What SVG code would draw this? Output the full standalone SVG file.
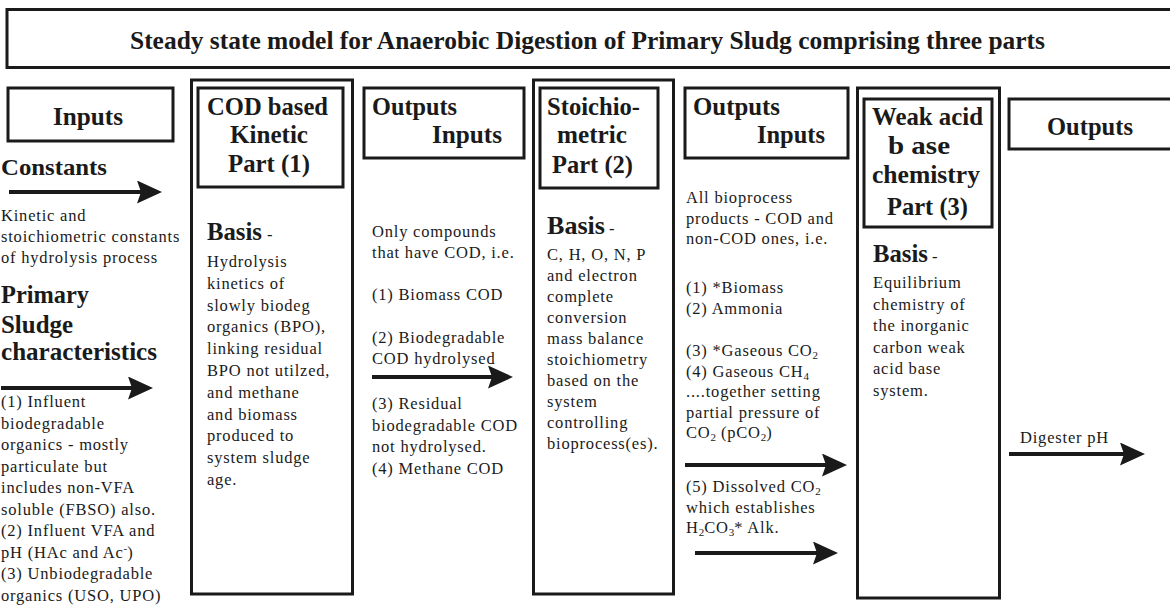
<svg xmlns="http://www.w3.org/2000/svg" width="1170" height="608" viewBox="0 0 1170 608">
  <style>
    .box { fill: none; stroke: #1a1a1a; stroke-width: 3; }
    .h { font-family: "Liberation Serif", "Times New Roman", serif; font-weight: bold; font-size: 26px; fill: #1a1a1a; }
    .t { font-family: "Liberation Serif", "Times New Roman", serif; font-size: 16.5px; letter-spacing: 0.8px; fill: #1a1a1a; }
    .sub { font-size: 11px; letter-spacing: 0; }
    .arrow { stroke: #1a1a1a; stroke-width: 4; fill: none; marker-end: url(#ah); }
  </style>
  <defs>
    <marker id="ah" markerUnits="userSpaceOnUse" markerWidth="26" markerHeight="24" refX="8" refY="11.5" orient="auto">
      <path d="M0,0 L25,11.5 L0,23 L4,11.5 Z" fill="#1a1a1a"/>
    </marker>
  </defs>
  <rect width="1170" height="608" fill="#ffffff"/>

  <!-- Title banner -->
  <g id="title">
    <rect class="box" x="7" y="9.5" width="1170" height="58"/>
    <text class="h" x="130" y="49" style="font-size:25px" textLength="915" lengthAdjust="spacingAndGlyphs">Steady state model for Anaerobic Digestion of Primary Sludg comprising three parts</text>
  </g>

  <!-- Column: model inputs -->
  <g id="inputs">
    <rect class="box" x="8" y="88" width="165" height="53"/>
    <text class="h" x="53" y="125" textLength="70" lengthAdjust="spacingAndGlyphs">Inputs</text>
    <text class="h" x="1" y="175" style="font-size:24px" textLength="106" lengthAdjust="spacingAndGlyphs">Constants</text>
    <text class="t" x="1" y="221">Kinetic and</text>
    <text class="t" x="1" y="242">stoichiometric constants</text>
    <text class="t" x="1" y="263">of hydrolysis process</text>
    <text class="h" x="1" y="303" textLength="88" lengthAdjust="spacingAndGlyphs">Primary</text>
    <text class="h" x="1" y="333" textLength="72" lengthAdjust="spacingAndGlyphs">Sludge</text>
    <text class="h" x="1" y="360" textLength="156" lengthAdjust="spacingAndGlyphs">characteristics</text>
    <text class="t" x="1" y="407">(1) Influent</text>
    <text class="t" x="1" y="428.5">biodegradable</text>
    <text class="t" x="1" y="450">organics - mostly</text>
    <text class="t" x="1" y="471.5">particulate but</text>
    <text class="t" x="1" y="493">includes non-VFA</text>
    <text class="t" x="1" y="514.5">soluble (FBSO) also.</text>
    <text class="t" x="1" y="536">(2) Influent VFA and</text>
    <text class="t" x="1" y="557.5">pH (HAc and Ac<tspan class="sub" dy="-6">-</tspan><tspan dy="6">)</tspan></text>
    <text class="t" x="1" y="579">(3) Unbiodegradable</text>
    <text class="t" x="1" y="600.5">organics (USO, UPO)</text>
  </g>

  <!-- Part 1: COD based kinetic part -->
  <g id="part1">
    <rect class="box" x="191.5" y="80" width="161" height="514"/>
    <rect class="box" x="198" y="88" width="145" height="99"/>
    <text class="h" x="207" y="115" textLength="121" lengthAdjust="spacingAndGlyphs">COD based</text>
    <text class="h" x="230" y="143" textLength="78" lengthAdjust="spacingAndGlyphs">Kinetic</text>
    <text class="h" x="228" y="172" textLength="82" lengthAdjust="spacingAndGlyphs">Part (1)</text>
    <text class="h" x="207" y="240" textLength="55" lengthAdjust="spacingAndGlyphs">Basis</text>
    <text class="t" x="267" y="240"> -</text>
    <text class="t" x="207" y="267">Hydrolysis</text>
    <text class="t" x="207" y="288.8">kinetics of</text>
    <text class="t" x="207" y="310.6">slowly biodeg</text>
    <text class="t" x="207" y="332.4">organics (BPO),</text>
    <text class="t" x="207" y="354.2">linking residual</text>
    <text class="t" x="207" y="376">BPO not utilzed,</text>
    <text class="t" x="207" y="397.8">and methane</text>
    <text class="t" x="207" y="419.6">and biomass</text>
    <text class="t" x="207" y="441.4">produced to</text>
    <text class="t" x="207" y="463.2">system sludge</text>
    <text class="t" x="207" y="485">age.</text>
  </g>

  <!-- Outputs of part 1 / inputs of part 2 -->
  <g id="link1">
    <rect class="box" x="364" y="88" width="160" height="70"/>
    <text class="h" x="372" y="115" textLength="85" lengthAdjust="spacingAndGlyphs">Outputs</text>
    <text class="h" x="432" y="143" textLength="70" lengthAdjust="spacingAndGlyphs">Inputs</text>
    <text class="t" x="372" y="237">Only compounds</text>
    <text class="t" x="372" y="258">that have COD, i.e.</text>
    <text class="t" x="372" y="300">(1) Biomass COD</text>
    <text class="t" x="372" y="343">(2) Biodegradable</text>
    <text class="t" x="372" y="364">COD hydrolysed</text>
    <text class="t" x="372" y="409">(3) Residual</text>
    <text class="t" x="372" y="430.5">biodegradable COD</text>
    <text class="t" x="372" y="452">not hydrolysed.</text>
    <text class="t" x="372" y="473.5">(4) Methane COD</text>
  </g>

  <!-- Part 2: stoichiometric part -->
  <g id="part2">
    <rect class="box" x="533.5" y="80" width="140" height="514"/>
    <rect class="box" x="540" y="88" width="118" height="100"/>
    <text class="h" x="547" y="115" textLength="93" lengthAdjust="spacingAndGlyphs">Stoichio-</text>
    <text class="h" x="557" y="143" textLength="70" lengthAdjust="spacingAndGlyphs">metric</text>
    <text class="h" x="552" y="173" textLength="81" lengthAdjust="spacingAndGlyphs">Part (2)</text>
    <text class="h" x="547" y="234" textLength="58" lengthAdjust="spacingAndGlyphs">Basis</text>
    <text class="t" x="609" y="234"> -</text>
    <text class="t" x="547" y="260">C, H, O, N, P</text>
    <text class="t" x="547" y="281">and electron</text>
    <text class="t" x="547" y="302">complete</text>
    <text class="t" x="547" y="323">conversion</text>
    <text class="t" x="547" y="344">mass balance</text>
    <text class="t" x="547" y="365">stoichiometry</text>
    <text class="t" x="547" y="386">based on the</text>
    <text class="t" x="547" y="407">system</text>
    <text class="t" x="547" y="428">controlling</text>
    <text class="t" x="547" y="449">bioprocess(es).</text>
  </g>

  <!-- Outputs of part 2 / inputs of part 3 -->
  <g id="link2">
    <rect class="box" x="685" y="88" width="163" height="70"/>
    <text class="h" x="693" y="115" textLength="87" lengthAdjust="spacingAndGlyphs">Outputs</text>
    <text class="h" x="757" y="143" textLength="68" lengthAdjust="spacingAndGlyphs">Inputs</text>
    <text class="t" x="686" y="203">All bioprocess</text>
    <text class="t" x="686" y="223.5">products - COD and</text>
    <text class="t" x="686" y="244">non-COD ones, i.e.</text>
    <text class="t" x="686" y="293">(1) *Biomass</text>
    <text class="t" x="686" y="313.5">(2) Ammonia</text>
    <text class="t" x="686" y="356">(3) *Gaseous CO<tspan class="sub" dy="3">2</tspan></text>
    <text class="t" x="686" y="376.5">(4) Gaseous CH<tspan class="sub" dy="3">4</tspan></text>
    <text class="t" x="686" y="397">....together setting</text>
    <text class="t" x="686" y="417.5">partial pressure of</text>
    <text class="t" x="686" y="438">CO<tspan class="sub" dy="3">2</tspan><tspan dy="-3"> (pCO</tspan><tspan class="sub" dy="3">2</tspan><tspan dy="-3">)</tspan></text>
    <text class="t" x="686" y="492">(5) Dissolved CO<tspan class="sub" dy="3">2</tspan></text>
    <text class="t" x="686" y="512.5">which establishes</text>
    <text class="t" x="686" y="533">H<tspan class="sub" dy="3">2</tspan><tspan dy="-3">CO</tspan><tspan class="sub" dy="3">3</tspan><tspan dy="-3">* Alk.</tspan></text>
  </g>

  <!-- Part 3: weak acid base chemistry part -->
  <g id="part3">
    <rect class="box" x="857.5" y="88" width="142" height="510"/>
    <rect class="box" x="864" y="99" width="128" height="128"/>
    <text class="h" x="872" y="125" textLength="111" lengthAdjust="spacingAndGlyphs">Weak acid</text>
    <text class="h" x="888" y="154" textLength="62" lengthAdjust="spacingAndGlyphs">b ase</text>
    <text class="h" x="872" y="183" textLength="108" lengthAdjust="spacingAndGlyphs">chemistry</text>
    <text class="h" x="887" y="215" textLength="81" lengthAdjust="spacingAndGlyphs">Part (3)</text>
    <text class="h" x="873" y="262" textLength="55" lengthAdjust="spacingAndGlyphs">Basis</text>
    <text class="t" x="932" y="262"> -</text>
    <text class="t" x="873" y="288">Equilibrium</text>
    <text class="t" x="873" y="309.5">chemistry of</text>
    <text class="t" x="873" y="331">the inorganic</text>
    <text class="t" x="873" y="352.5">carbon weak</text>
    <text class="t" x="873" y="374">acid base</text>
    <text class="t" x="873" y="395.5">system.</text>
  </g>

  <!-- Final outputs -->
  <g id="outputs">
    <rect class="box" x="1009" y="99" width="165" height="50"/>
    <text class="h" x="1047" y="135" textLength="86" lengthAdjust="spacingAndGlyphs">Outputs</text>
    <text class="t" x="1020" y="443">Digester pH</text>
  </g>

  <!-- Flow arrows -->
  <g id="connectors">
    <line class="arrow" x1="9" y1="192" x2="145" y2="192"/>
    <line class="arrow" x1="1" y1="388" x2="136" y2="388"/>
    <line class="arrow" x1="372" y1="377" x2="496" y2="377"/>
    <line class="arrow" x1="685" y1="465" x2="830" y2="465"/>
    <line class="arrow" x1="695" y1="553" x2="821" y2="553"/>
    <line class="arrow" x1="1009" y1="454" x2="1128" y2="454"/>
  </g>
</svg>
